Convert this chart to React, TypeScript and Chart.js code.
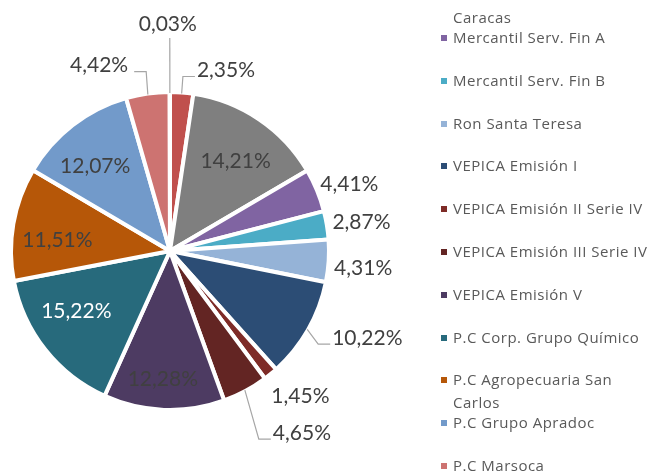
import React, { useEffect, useRef } from "react";
import { Chart, ArcElement, PieController } from "chart.js";

Chart.register(ArcElement, PieController);

// ---- data ----
const categories = [
  "Banco Plaza Obligaciones",
  "C.A. La Electricidad de Caracas",
  "Mercantil Serv. Fin A",
  "Mercantil Serv. Fin B",
  "Ron Santa Teresa",
  "VEPICA Emisión I",
  "VEPICA Emisión II Serie IV",
  "VEPICA Emisión III Serie IV",
  "VEPICA Emisión V",
  "P.C Corp. Grupo Químico",
  "P.C Agropecuaria San Carlos",
  "P.C Grupo Apradoc",
  "P.C Marsoca",
  "P.C Otros",
];
const values = [2.35, 14.21, 4.41, 2.87, 4.31, 10.22, 1.45, 4.65, 12.28, 15.22, 11.51, 12.07, 4.42, 0.03];
const valueLabels = ["2,35%", "14,21%", "4,41%", "2,87%", "4,31%", "10,22%", "1,45%", "4,65%", "12,28%", "15,22%", "11,51%", "12,07%", "4,42%", "0,03%"];

// ---- styles ----
const colors = [
  "#C0504D", "#7F7F7F", "#8064A2", "#4BACC6", "#95B3D7", "#2C4D75", "#7E2B27",
  "#632523", "#4D3B62", "#276A7C", "#B65708", "#729ACA", "#CD7371", "#B9CDE5",
];
type Place = { mode: "in" | "out" | "leader" | "top"; d: number; da: number; color?: string };
const placement: Place[] = [
  { mode: "leader", d: 18, da: 0 },
  { mode: "in", d: 0.71, da: 2 },
  { mode: "out", d: 8, da: 0 },
  { mode: "out", d: 8, da: 0 },
  { mode: "out", d: 8, da: 2 },
  { mode: "leader", d: 18, da: 2.4 },
  { mode: "out", d: 20, da: 0 },
  { mode: "leader", d: 51, da: 3 },
  { mode: "in", d: 0.82, da: 1 },
  { mode: "in", d: 0.71, da: 5.5, color: "#FFFFFF" },
  { mode: "in", d: 0.72, da: -4.4 },
  { mode: "in", d: 0.72, da: -3.7 },
  { mode: "leader", d: 24, da: 0.5 },
  { mode: "top", d: 56, da: 0 },
];
const LABEL_FONT = "21px Lato";
const LABEL_COLOR = "#404040";
const LEADER_COLOR = "#A6A6A6";

const labelPlugin = {
  id: "pieLabels",
  afterDatasetsDraw(chart: any) {
    const ctx = chart.ctx as CanvasRenderingContext2D;
    const meta = chart.getDatasetMeta(0);
    ctx.save();
    ctx.font = LABEL_FONT;
    ctx.textBaseline = "middle";
    meta.data.forEach((arc: any, i: number) => {
      const { x, y, startAngle, endAngle, outerRadius } = arc.getProps(
        ["x", "y", "startAngle", "endAngle", "outerRadius"],
        true
      );
      const r = outerRadius - 2;
      const mid = (startAngle + endAngle) / 2;
      const p = placement[i];
      const a = mid + (p.da * Math.PI) / 180;
      const text = valueLabels[i];
      const w = ctx.measureText(text).width;
      ctx.fillStyle = p.color || LABEL_COLOR;
      if (p.mode === "in") {
        ctx.textAlign = "center";
        ctx.fillText(text, x + Math.cos(a) * r * p.d, y + Math.sin(a) * r * p.d);
      } else if (p.mode === "out") {
        const dx = Math.cos(a), dy = Math.sin(a);
        const px = x + dx * (r + p.d), py = y + dy * (r + p.d);
        ctx.textAlign = "center";
        ctx.fillText(text, px + (dx * w) / 2, py + dy * 11);
      } else {
        const ex = x + Math.cos(mid) * (r + 1), ey = y + Math.sin(mid) * (r + 1);
        const qx = x + Math.cos(a) * (r + p.d), qy = y + Math.sin(a) * (r + p.d);
        ctx.strokeStyle = LEADER_COLOR;
        ctx.lineWidth = 1.2;
        ctx.beginPath();
        ctx.moveTo(ex, ey);
        ctx.lineTo(qx, qy);
        if (p.mode === "top") {
          ctx.stroke();
          ctx.textAlign = "center";
          ctx.fillText(text, qx - 2, qy - 14);
        } else {
          const sx = Math.cos(a) >= 0 ? 1 : -1;
          ctx.lineTo(qx + sx * 12, qy);
          ctx.stroke();
          ctx.textAlign = sx > 0 ? "left" : "right";
          ctx.fillText(text, qx + sx * (sx > 0 ? 14 : 18), qy - 6);
        }
      }
    });
    ctx.restore();
  },
};

const LEG_Y0 = 37.5;
const LEG_STEP = 42.8;

export default function App() {
  const ref = useRef<HTMLCanvasElement | null>(null);
  useEffect(() => {
    document.body.style.margin = "0";
    if (!ref.current) return;
    const chart = new Chart(ref.current, {
      type: "pie",
      data: {
        labels: categories,
        datasets: [
          {
            data: values,
            backgroundColor: colors,
            borderColor: "#FFFFFF",
            borderWidth: 4,
            radius: 159,
          } as any,
        ],
      },
      options: {
        animation: false,
        responsive: false,
        maintainAspectRatio: false,
        layout: { padding: { left: 0, right: 313, top: 30, bottom: 0 } },
        plugins: { legend: { display: false }, tooltip: { enabled: false } } as any,
      },
      plugins: [labelPlugin],
    });
    return () => chart.destroy();
  }, []);

  return (
    <div style={{ position: "fixed", left: 0, top: 0, width: 653, height: 472, overflow: "hidden", background: "#FFFFFF" }}>
      <canvas ref={ref} width={653} height={472} style={{ display: "block" }} />
      <div style={{ position: "absolute", left: 0, top: 7, width: 653, height: 465, overflow: "hidden" }}>
        {categories.map((c, i) => (
          <div
            key={c}
            style={{
              position: "absolute",
              left: 441,
              top: LEG_Y0 + (i - 2) * LEG_STEP - 11.5 - 7,
              width: 212,
              display: "flex",
              alignItems: "flex-start",
            }}
          >
            <span style={{ width: 6, height: 6, background: colors[i], marginTop: 9, marginRight: 6, flex: "none" }} />
            <span style={{ width: 200, font: "15px 'Open Sans'", letterSpacing: "0.5px", color: "#595959", lineHeight: "23px" }}>{c}</span>
          </div>
        ))}
      </div>
    </div>
  );
}
